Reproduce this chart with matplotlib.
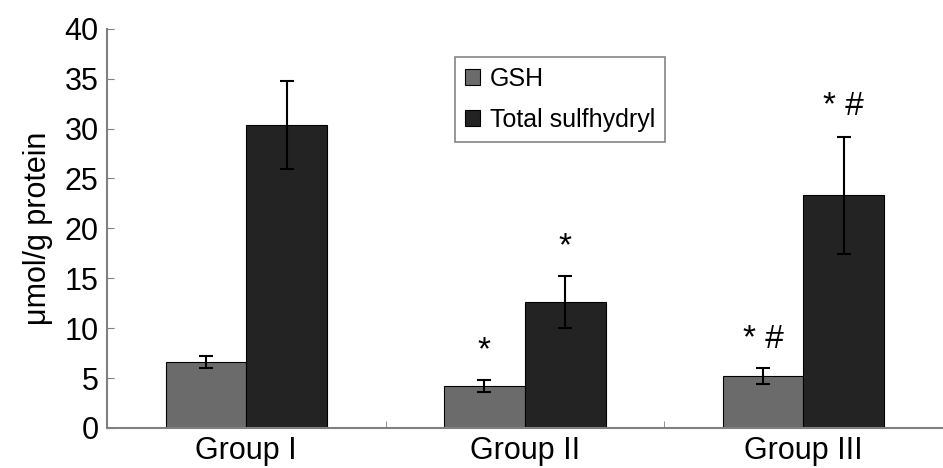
import numpy as np
import matplotlib
matplotlib.use("Agg")
import matplotlib.pyplot as plt

groups = ["Group I", "Group II", "Group III"]
gsh = [6.6, 4.2, 5.2]
gsh_err = [0.6, 0.6, 0.8]
total = [30.4, 12.6, 23.3]
total_err = [4.4, 2.6, 5.9]
gsh_marks = ["", "*", "* #"]
total_marks = ["", "*", "* #"]

plt.rcParams['font.family'] = ['Liberation Sans', 'DejaVu Sans']

fig = plt.figure(figsize=(9.43, 4.68), dpi=100)
ax = fig.add_axes([0.1135, 0.0855, 0.886, 0.853])

x = np.arange(len(groups))
w = 0.29
ax.bar(x - w / 2, gsh, w, color='#6b6b6b', edgecolor='black', linewidth=0.8,
       yerr=gsh_err, capsize=5, error_kw=dict(elinewidth=1.5, capthick=1.5), label='GSH')
ax.bar(x + w / 2, total, w, color='#232323', edgecolor='black', linewidth=0.8,
       yerr=total_err, capsize=5, error_kw=dict(elinewidth=1.5, capthick=1.5), label='Total sulfhydryl')

# significance marks above the error bars
for i in range(len(groups)):
    if gsh_marks[i]:
        ax.text(x[i] - w / 2, gsh[i] + gsh_err[i] + 2.9, gsh_marks[i], ha='center', va='center', fontsize=24)
    if total_marks[i]:
        ax.text(x[i] + w / 2, total[i] + total_err[i] + 3.0, total_marks[i], ha='center', va='center', fontsize=24)

ax.set_xlim(-0.5, 2.5)
ax.set_ylim(0, 40)
ax.set_yticks(range(0, 41, 5))
ax.set_xticks(x)
ax.set_xticklabels(groups, fontsize=22)
ax.set_xticks([0.5, 1.5], minor=True)
ax.tick_params(axis='x', which='major', length=0, pad=6)
ax.tick_params(axis='x', which='minor', direction='in', length=5, color='#808080')
ax.tick_params(axis='y', direction='in', length=5, color='#808080', labelsize=22, pad=6)
ax.set_ylabel("μmol/g protein", fontsize=22, labelpad=8)

for s in ['top', 'right']:
    ax.spines[s].set_visible(False)
for s in ['left', 'bottom']:
    ax.spines[s].set_color('#808080')
    ax.spines[s].set_linewidth(1.5)

leg = ax.legend(loc='upper left', bbox_to_anchor=(0.416, 0.93), borderaxespad=0, fontsize=18,
                frameon=True, fancybox=False, edgecolor='#666666', handlelength=0.6,
                handleheight=0.6, handletextpad=0.4, labelspacing=0.7, borderpad=0.4)
leg.get_frame().set_linewidth(1.2)

fig.savefig("out.png", dpi=100)
